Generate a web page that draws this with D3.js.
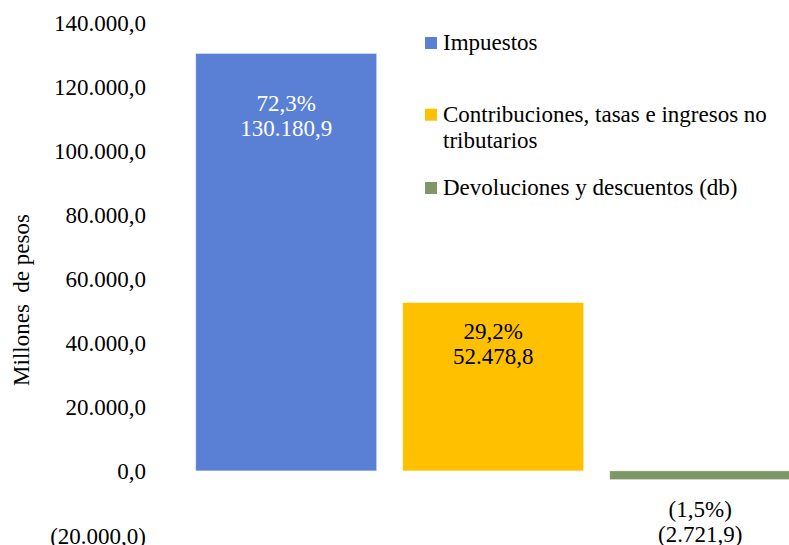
<!DOCTYPE html>
<html>
<head>
<meta charset="utf-8">
<script src="https://cdn.jsdelivr.net/npm/d3@7"></script>
<style>
  body { margin: 0; background: #fff; }
</style>
</head>
<body>
<div id="chart"></div>
<script>
// data
const categories = ["Impuestos", "Contribuciones, tasas e ingresos no tributarios", "Devoluciones y descuentos (db)"];
const values = [130180.9, 52478.8, -2721.9];
const shares = [72.3, 29.2, -1.5];
const yTicks = [-20000, 0, 20000, 40000, 60000, 80000, 100000, 120000, 140000];
const legendLines = [["Impuestos"], ["Contribuciones, tasas e ingresos no", "tributarios"], ["Devoluciones y descuentos (db)"]];

const colors = ["#5a80d6", "#ffc000", "#7f9667"];
const labelColors = ["#ffffff", "#000000", "#000000"];
const FONT = "Liberation Serif";
const FS = 23;

const W = 789, H = 545;

const svg = d3.select("#chart")
  .append("svg")
  .attr("width", W)
  .attr("height", H)
  .attr("font-family", FONT);

// scales
const y = d3.scaleLinear()
  .domain([-20000, 140000])
  .range([535, 22]);

const x = d3.scaleBand()
  .domain(categories)
  .range([182.7, 803.7])
  .paddingInner(0.126)
  .paddingOuter(0.063);

// number format: 130.180,9 and (2.721,9)
const es = d3.formatLocale({ decimal: ",", thousands: ".", grouping: [3], currency: ["", ""] });
const fmtNum = v => {
  const s = es.format(",.1f")(Math.abs(v));
  return v < 0 ? "(" + s + ")" : s;
};
const fmtPct = v => {
  const s = es.format(".1f")(Math.abs(v)) + "%";
  return v < 0 ? "(" + s + ")" : s;
};

// y axis (labels only)
const yAxis = svg.append("g")
  .attr("transform", "translate(146,0)")
  .call(d3.axisLeft(y).tickValues(yTicks).tickSize(0).tickPadding(0).tickFormat(fmtNum))
  .attr("font-family", FONT)
  .attr("font-size", FS);
yAxis.select(".domain").remove();
yAxis.selectAll("text")
  .attr("fill", "#000")
  .attr("dy", "0.35em");

// axis title
svg.append("text")
  .attr("transform", "translate(29,300) rotate(-90)")
  .attr("text-anchor", "middle")
  .attr("font-family", FONT)
  .attr("font-size", FS)
  .attr("fill", "#000")
  .style("white-space", "pre")
  .text("Millones  de pesos");

// bars
svg.append("g")
  .selectAll("rect")
  .data(values)
  .join("rect")
  .attr("x", (d, i) => x(categories[i]))
  .attr("width", x.bandwidth())
  .attr("y", d => y(Math.max(0, d)))
  .attr("height", d => Math.abs(y(d) - y(0)))
  .attr("fill", (d, i) => colors[i])
  .attr("stroke", "#ffffff")
  .attr("stroke-opacity", 0.5)
  .attr("stroke-width", 0.75);

// data labels (offset below bar top, or below bar bottom for negatives)
const labelDy = [58, 36, 37];
const labels = svg.append("g")
  .selectAll("text")
  .data(values)
  .join("text")
  .attr("text-anchor", "middle")
  .attr("font-family", FONT)
  .attr("font-size", FS)
  .attr("fill", (d, i) => labelColors[i])
  .attr("x", (d, i) => x(categories[i]) + x.bandwidth() / 2)
  .attr("y", (d, i) => y(d) + labelDy[i]);
labels.append("tspan")
  .text((d, i) => fmtPct(shares[i]));
labels.append("tspan")
  .attr("x", (d, i) => x(categories[i]) + x.bandwidth() / 2)
  .attr("dy", 25)
  .text(d => fmtNum(d));

// legend
const legendY = [50, 121.7, 195];
const legend = svg.append("g")
  .selectAll("g")
  .data(legendLines)
  .join("g")
  .attr("transform", (d, i) => `translate(425,${legendY[i]})`);
legend.append("rect")
  .attr("x", 0)
  .attr("y", -13)
  .attr("width", 12)
  .attr("height", 12)
  .attr("fill", (d, i) => colors[i]);
legend.append("text")
  .attr("font-family", FONT)
  .attr("font-size", FS)
  .attr("fill", "#000")
  .selectAll("tspan")
  .data(d => d)
  .join("tspan")
  .attr("x", 18)
  .attr("y", (d, j) => j * 26.6)
  .text(d => d);
</script>
</body>
</html>
